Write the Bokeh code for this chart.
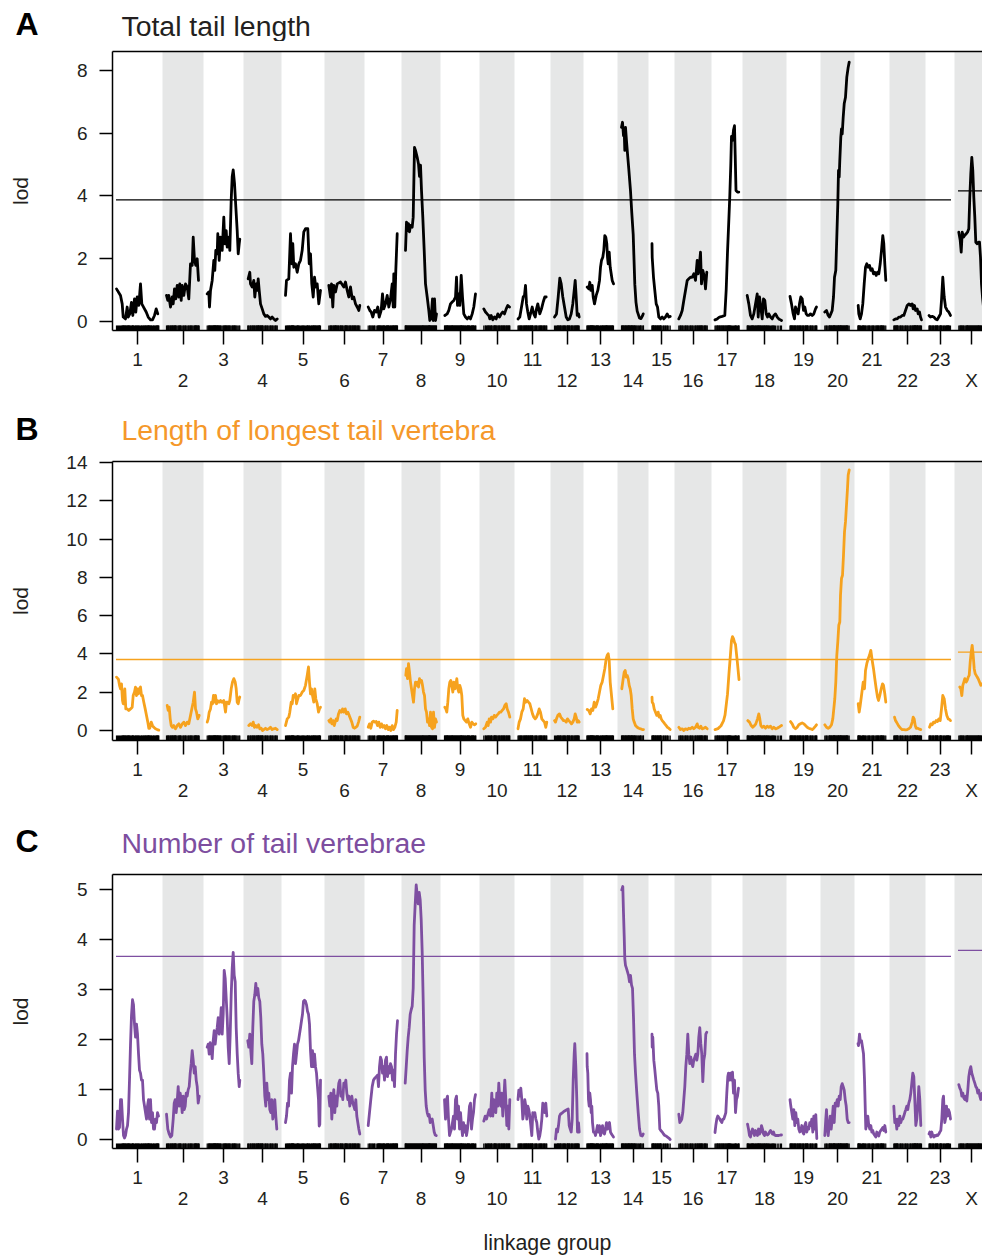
import numpy as np
from bokeh.plotting import figure
from bokeh.layouts import column
from bokeh.models import Range1d, FixedTicker, LinearAxis, CustomJSTickFormatter
from bokeh.core.properties import value
from bokeh.embed import file_html
from bokeh.resources import INLINE

# ---------------- data ----------------
chrom_names = [str(i) for i in range(1, 24)] + ["X"]
chrom_lengths = [43, 34, 33, 31, 36, 33, 30, 32, 32, 28, 29, 26, 27, 24, 19, 30, 24, 37, 27, 27, 28, 29, 22, 27]
chrom_gap = 7.0

# Panel A: total tail length (position in cM within chromosome, LOD)
tail_length_pos = [
    [0.5,4.5,6.2,7.2,9.5,11.2,12.2,13.8,15.5,16.8,18.5,19.8,21.2,22.8,24.5,25.8,27.8,30.2,32.2,34.5,36.5,38.5,40.2,41.8],
    [0.5,1.8,2.8,4.5,6.2,7.2,8.5,9.8,11.2,12.8,13.8,15.2,16.2,17.8,19.5,21.2,22.8,24.5,26.2,27.2,28.5,29.8,31.2,32.5],
    [0.2,1.8,2.5,3.5,5.2,6.8,7.8,8.8,10.2,10.8,12.2,13.5,15.2,16.8,17.8,19.2,20.2,21.8,22.8,24.2,25.2,26.2,27.5,28.8,30.2,31.2,32.2,32.8],
    [1.2,2.8,3.5,5.2,6.8,7.8,9.2,10.2,11.2,12.2,13.5,15.2,16.8,18.5,20.2,21.8,23.5,25.2,26.8,28.5,30.2],
    [0.5,1.5,3.8,5.5,6.8,7.8,8.8,10.5,12.2,13.8,15.5,17.2,18.8,20.5,22.8,24.2,25.5,26.8,28.2,29.5,30.8,32.2,33.8,35.5],
    [0.8,2.5,3.5,4.8,5.8,7.5,9.2,12.5,15.8,17.5,19.2,20.8,22.5,24.2,25.8,27.5,29.2,30.8,31.8],
    [0.2,1.8,3.2,4.8,6.5,8.2,9.8,11.2,13.2,14.5,15.8,17.5,19.2,20.8,22.5,24.2,25.2,25.8,26.8,27.8,29.2],
    [0.5,1.5,2.5,3.5,4.5,5.5,7.2,8.2,9.5,10.5,12.2,13.5,14.5,15.5,16.5,17.8,19.2,20.5,22.2,23.8,24.8,26.2,27.5,28.2,29.5,30.5,31.5],
    [0.8,3.2,4.8,6.5,8.2,9.8,11.5,12.5,13.5,14.8,15.8,17.2,18.5,19.8,21.5,23.2,24.8,26.5,28.2,29.8,31.5],
    [0.8,2.5,4.2,5.8,6.8,8.2,9.8,11.5,13.2,14.8,16.5,18.2,19.8,21.5,23.2,24.8,26.5],
    [0,1.8,3.5,5.2,6.5,7.5,8.5,9.8,11.2,12.5,14.2,15.8,17.2,18.5,19.8,21.8,23.5,25.2,26.8,28.2],
    [0.5,2.5,4.2,5.8,7.2,8.8,10.5,12.2,13.8,15.5,17.2,18.8,20.2,21.2,22.2,23.2,24.5,25.2],
    [0.2,1.8,2.8,3.8,5.2,6.2,7.5,9.2,10.8,12.5,13.5,14.5,15.8,16.8,17.8,18.8,19.8,20.5,21.2,22.2,23.2,24.2,25.2,26.5],
    [0.5,1.5,2.5,3.2,3.8,4.5,5.5,6.5,7.8,9.5,10.8,12.2,13.8,15.0,16.2,18.5,20.0,21.2,22.2],
    [0,0.2,1.5,2.8,4.2,5.5,6.8,8.5,10.2,11.8,13.5,15.2,16.8,18.2],
    [0.8,2.5,4.2,5.8,7.5,9.2,10.8,12.5,14.2,15.8,17.5,19.2,20.2,21.5,22.5,23.5,24.8,26.5,27.5,28.8],
    [0,2.2,4.5,7.2,9.8,11.2,12.5,13.8,14.8,15.8,16.5,17.5,18.5,19.5,20.2,21.0,22.5,23.8],
    [1.2,2.8,4.5,6.2,7.8,9.5,11.2,12.2,13.5,14.8,16.2,17.5,18.8,20.2,21.5,22.8,24.5,26.2,27.8,29.5,31.2,32.8,34.5,35.5],
    [0,1.5,3.2,4.5,5.5,6.8,8.2,9.5,10.8,12.2,13.5,14.8,16.2,17.5,18.8,20.5,22.2,23.8,25.5,26.5],
    [0.8,2.5,4.2,5.5,6.8,8.2,9.5,10.5,11.8,12.8,13.8,14.5,15.2,15.8,16.8,17.5,18.2,19.2,20.2,21.5,22.8,24.2,25.2],
    [0.2,0.8,2.2,3.5,4.8,6.2,7.5,8.8,10.2,11.5,12.8,14.2,15.5,16.8,18.2,19.5,20.8,22.2,23.5,24.8,25.8,26.8,27.8],
    [0.8,2.5,4.2,5.8,7.5,9.2,10.8,12.5,14.2,15.8,17.5,19.2,20.2,21.5,22.5,24.2,25.2,26.5,27.5,28.5],
    [0,1.5,3.2,4.8,6.5,8.2,9.8,11.5,12.5,13.8,15.2,16.5,18.2,19.8,21.5],
    [0.8,2.2,3.2,4.2,5.5,6.8,8.2,9.5,10.8,11.8,12.8,13.8,14.8,15.8,16.8,17.8,19.2,20.5,21.5,22.5,23.5,24.5,26.0],
]
tail_length_lod = [
    [1.03,0.82,0.55,0.13,0.07,0.45,0.13,0.23,0.60,0.18,0.71,0.29,0.77,0.50,1.19,0.55,0.43,0.29,0.13,0.04,0.04,0.18,0.39,0.23],
    [0.82,0.66,0.82,0.45,0.77,0.55,1.03,0.71,1.14,0.77,1.19,0.66,1.14,0.82,1.19,1.09,0.71,1.83,1.78,2.68,1.94,1.78,1.99,1.30],
    [0.87,0.93,0.45,0.98,1.30,1.94,1.62,2.26,2.15,2.79,1.94,2.68,2.26,3.32,2.47,2.89,2.36,2.68,2.26,3.87,4.62,4.83,4.40,3.66,2.89,2.15,2.47,2.62],
    [1.35,1.56,1.19,1.09,1.30,0.77,1.19,0.98,1.35,0.98,0.55,0.39,0.23,0.15,0.18,0.13,0.07,0.13,0.07,0.02,0.07],
    [0.82,1.30,1.35,2.79,1.83,2.47,1.72,1.83,1.56,1.83,1.94,2.26,2.85,2.95,2.95,1.83,2.15,1.19,0.77,1.40,1.09,1.19,0.55,0.98],
    [1.14,0.77,1.19,0.45,1.14,0.93,1.19,1.25,1.09,1.25,0.98,0.77,1.09,0.71,0.77,0.55,0.45,0.34,0.50],
    [0.45,0.34,0.29,0.13,0.34,0.29,0.45,0.13,0.34,0.87,0.39,0.55,0.82,0.45,0.71,1.19,0.45,1.51,0.45,1.62,2.79],
    [2.26,3.16,2.89,3.11,2.85,3.06,3.00,3.32,5.55,5.45,5.23,5.02,4.62,4.98,4.17,3.32,2.26,1.19,0.77,0.34,0.02,0.13,0.71,0.02,0.71,0.02,0.23],
    [0.18,0.23,0.34,0.55,0.61,0.66,0.77,1.40,0.50,0.87,0.50,1.46,0.77,0.23,0.13,0.07,0.13,0.07,0.23,0.45,0.87],
    [0.39,0.29,0.23,0.18,0.07,0.18,0.04,0.13,0.07,0.23,0.13,0.23,0.29,0.23,0.39,0.50,0.45],
    [0.07,0.13,0.45,0.77,0.82,1.14,0.55,0.29,0.07,0.23,0.45,0.23,0.13,0.39,0.55,0.23,0.39,0.61,0.77,0.77],
    [0.13,0.23,0.77,1.37,1.19,0.77,0.45,0.13,0.04,0.07,0.23,0.55,0.98,1.30,0.77,0.18,0.23,0.13],
    [1.09,1.03,1.24,0.98,1.14,0.77,0.55,0.82,0.98,1.30,1.72,1.94,2.04,2.26,2.73,2.68,2.47,2.04,1.83,2.20,1.72,1.51,1.30,1.19],
    [6.19,6.35,5.92,6.08,5.45,6.19,5.75,5.35,4.85,4.16,3.45,2.77,1.18,0.60,0.32,0.10,0.08,0.15,0.23],
    [2.47,2.04,1.40,0.98,0.55,0.45,0.13,0.07,0.13,0.07,0.13,0.23,0.13,0.15],
    [0.07,0.18,0.34,0.66,0.98,1.30,1.35,1.40,1.40,1.51,1.30,1.94,1.51,1.83,2.20,1.19,1.62,1.40,1.03,1.56],
    [0.04,0.07,0.13,0.15,0.18,1.00,2.20,3.20,4.00,5.00,5.90,5.77,6.10,6.24,5.30,4.17,4.12,4.12],
    [0.82,0.55,0.18,0.07,0.23,0.55,0.87,0.13,0.77,0.45,0.07,0.71,0.66,0.23,0.13,0.23,0.13,0.07,0.18,0.23,0.13,0.07,0.04,0.02],
    [0.79,0.55,0.23,0.07,0.45,0.34,0.23,0.55,0.77,0.71,0.34,0.45,0.23,0.18,0.18,0.23,0.18,0.23,0.39,0.45],
    [0.29,0.34,0.18,0.13,0.23,0.34,0.77,1.40,1.62,2.68,3.74,4.81,4.60,5.13,5.87,6.14,5.98,6.51,6.94,7.15,7.79,8.11,8.27],
    [0.50,0.23,0.07,0.23,0.55,1.19,1.72,1.83,1.72,1.78,1.62,1.67,1.51,1.56,1.46,1.56,1.51,1.83,2.26,2.73,2.47,1.83,1.30],
    [0.04,0.07,0.07,0.13,0.13,0.18,0.18,0.34,0.50,0.55,0.50,0.55,0.39,0.50,0.34,0.39,0.23,0.29,0.13,0.04],
    [0.18,0.13,0.15,0.13,0.07,0.04,0.13,0.23,0.66,1.40,0.77,0.45,0.34,0.29,0.18],
    [2.84,2.58,2.20,2.84,2.68,2.74,2.79,2.84,2.95,3.96,4.70,5.23,4.81,3.96,3.32,2.52,2.47,2.52,2.52,2.04,1.19,0.77,0.30],
]

# Panel B: length of longest tail vertebra
vertebra_length_pos = [
    [0.5,2.5,3.5,4.5,5.5,6.5,7.2,7.8,8.8,9.8,11.2,12.8,14.5,16.2,17.2,18.5,19.5,20.5,21.5,22.5,23.5,24.5,25.5,26.5,27.8,29.2,30.5,31.8,32.8,33.8,35.2,36.5,37.8,39.5,41.2,42.8],
    [1.2,2.2,3.2,4.2,5.2,6.5,7.8,9.5,11.2,12.8,14.5,16.2,17.8,19.5,21.2,22.8,24.5,25.8,27.2,28.5,29.5,30.5,31.8,33.2],
    [0.2,1.2,2.2,3.5,4.5,5.5,6.5,7.5,8.5,9.5,10.5,11.5,12.5,13.5,15.2,16.8,18.5,19.5,20.8,21.8,22.8,24.2,25.5,26.8,28.2,29.2,30.2,31.2,32.2,32.8],
    [1.8,3.5,5.2,6.2,7.5,8.8,10.2,11.5,12.8,14.2,15.5,16.8,18.5,20.2,21.8,23.5,25.2,26.8,28.5,30.2],
    [0.5,2.2,3.8,4.8,6.2,7.2,8.2,9.5,10.5,11.5,12.8,13.8,15.5,17.2,18.8,20.5,22.2,23.5,24.5,25.5,26.5,27.5,28.8,29.8,30.8,32.2,33.5,34.5,35.5],
    [0.8,1.8,2.8,3.8,5.2,6.2,7.2,8.2,9.2,10.5,11.8,13.2,14.5,15.8,17.2,18.5,19.8,21.2,22.5,23.8,25.2,26.5,27.8,29.2,30.5,31.8],
    [0.2,1.5,2.8,4.2,5.5,6.8,8.2,9.5,10.8,12.2,13.5,14.8,16.2,17.5,18.8,20.2,21.5,22.8,24.2,25.5,26.8,28.2,29.2],
    [0.8,1.5,2.5,3.5,4.5,5.5,6.5,7.5,8.5,9.5,10.5,11.5,12.5,13.5,14.5,15.5,16.5,17.5,18.5,19.5,20.5,21.5,22.5,23.5,24.5,25.5,26.5,27.5,28.5,29.5,30.5,31.5],
    [0.8,1.8,2.8,3.8,4.8,5.8,6.8,7.8,8.8,9.8,10.8,11.8,12.8,13.8,14.8,15.8,16.8,17.8,18.8,19.8,21.2,22.5,23.8,25.2,26.5,27.8,29.2,30.5,31.8],
    [0.8,2.5,4.2,5.2,6.2,7.5,8.5,9.8,11.2,12.5,13.8,15.2,16.5,17.8,19.2,20.5,21.8,23.2,24.2,25.5,26.8],
    [0,1.2,2.5,3.8,5.2,6.5,7.8,9.2,10.5,11.8,13.2,14.5,15.8,17.2,18.5,19.8,21.2,22.5,23.8,25.2,26.5,27.8,28.8],
    [0.5,1.5,2.5,3.8,5.5,6.8,8.2,9.5,10.8,12.2,13.5,14.8,16.2,17.5,18.8,20.2,21.2,22.2,23.2,24.2,25.2],
    [0.2,1.8,3.2,4.5,5.8,7.2,8.5,9.8,11.2,12.5,13.8,15.2,16.5,17.8,19.2,20.2,21.2,22.2,23.2,24.5,25.8],
    [0.8,2.2,3.2,4.2,5.2,6.2,7.2,8.2,9.2,10.2,11.2,12.2,13.2,14.5,16.2,17.8,19.5,21.2,22.5],
    [0,0.2,1.2,2.2,3.5,4.8,6.2,7.2,8.2,9.2,10.2,11.5,12.8,14.2,15.5,16.8,18.2],
    [0.8,2.5,4.2,5.8,7.5,9.2,10.8,12.5,14.2,15.8,17.5,19.2,20.2,21.5,22.8,24.2,25.8,27.5,29.2],
    [0,3,6,8.5,10,12.5,14,15.5,16.5,17.5,18.5,19.5,20.5,22.5,24],
    [1.8,3.5,5.2,6.8,8.5,9.8,11.5,12.8,13.8,14.8,16.2,17.8,19.5,21.2,22.8,24.5,26.2,27.8,29.5,31.2,32.8,34.5,35.5],
    [0.5,2.2,3.8,5.5,7.2,8.8,10.5,12.2,13.8,15.5,17.2,18.8,20.5,22.2,23.8,25.5,26.5],
    [0.8,2.5,4.2,5.8,7.5,8.8,9.8,10.8,11.8,12.8,13.8,14.8,15.8,16.5,17.5,18.5,19.5,20.5,21.5,22.5,23.5,24.2,25.2],
    [0.2,1.2,2.2,3.5,5.2,6.5,7.5,8.8,10.2,11.5,12.8,14.2,15.5,16.8,18.2,19.5,20.5,21.8,23.2,24.5,25.5,26.8,27.8],
    [1.5,2.5,3.5,4.5,5.8,7.5,9.2,10.8,12.5,14.2,15.8,17.5,19.2,20.2,21.2,22.2,23.2,24.5,25.8,27.8],
    [0.5,1.8,3.2,4.5,5.8,7.2,8.5,9.8,11.2,12.5,13.8,15.2,16.5,17.8,19.2,20.5,21.5],
    [1.8,2.8,3.8,4.8,5.8,6.8,8.2,9.2,10.2,11.2,12.2,13.2,14.2,15.2,16.2,17.2,18.2,19.2,20.2,21.5,22.8,24.2,26.0],
]
vertebra_length_lod = [
    [2.79,2.67,2.36,2.18,2.44,1.57,1.40,1.40,2.18,1.13,1.13,1.05,1.13,1.22,1.83,2.01,2.27,1.83,2.18,1.92,2.18,2.27,1.83,1.83,1.48,1.13,0.79,0.44,0.12,0.12,0.44,0.26,0.17,0.09,0.05,0.02],
    [1.31,1.05,1.22,0.61,0.26,0.17,0.26,0.09,0.26,0.35,0.17,0.35,0.44,0.26,0.44,0.35,0.79,1.13,1.48,2.01,1.13,0.96,0.61,0.79],
    [0.44,0.61,0.96,1.13,1.48,1.40,1.83,1.48,1.83,1.40,1.57,1.48,1.48,1.57,1.48,1.57,0.96,1.48,1.48,1.40,1.57,2.18,2.53,2.71,2.53,2.18,1.48,1.40,1.66,1.75],
    [0.26,0.35,0.26,0.44,0.17,0.26,0.17,0.30,0.09,0.12,0.0,0.05,0.12,0.05,0.09,0.17,0.05,0.09,0.12,0.05],
    [0.26,0.61,0.70,0.96,1.48,1.40,1.83,1.75,1.92,1.40,1.66,1.83,1.83,2.01,2.09,2.36,2.88,3.32,2.53,1.92,2.18,1.83,1.48,2.18,1.66,1.40,0.96,1.13,1.22],
    [0.52,0.44,0.61,0.35,0.52,0.26,0.44,0.61,0.52,0.87,1.05,0.96,1.13,0.96,1.13,0.87,0.96,0.79,0.61,0.44,0.17,0.12,0.17,0.23,0.44,0.70],
    [0.17,0.35,0.12,0.44,0.49,0.44,0.47,0.26,0.44,0.17,0.35,0.17,0.26,0.09,0.26,0.05,0.17,0.0,0.26,0.05,0.17,0.44,1.05],
    [2.88,3.23,2.71,3.49,3.05,2.53,2.18,1.83,1.48,2.18,2.53,2.36,2.53,2.27,2.71,2.53,2.62,2.36,2.01,1.83,1.13,0.96,0.44,0.61,0.26,0.96,0.17,0.09,0.96,0.17,0.61,0.44],
    [1.22,1.13,0.96,1.48,2.18,2.53,2.62,2.36,2.01,2.53,2.18,2.36,2.71,2.18,2.01,2.36,2.18,1.83,0.79,0.61,0.52,0.44,0.61,0.35,0.17,0.44,0.35,0.30,0.35],
    [0.09,0.17,0.44,0.26,0.61,0.44,0.70,0.61,0.79,0.70,0.79,0.87,0.96,0.96,1.05,1.13,1.31,1.40,1.13,0.96,0.70],
    [0.09,0.44,0.61,0.96,1.13,1.66,1.48,1.57,1.48,1.40,1.13,0.87,0.70,0.61,0.70,0.87,1.13,0.96,0.61,0.52,0.44,0.17,0.44],
    [0.52,0.44,0.61,0.79,0.87,0.70,0.61,0.52,0.52,0.44,0.61,0.52,0.44,0.35,0.44,0.61,0.87,0.70,0.44,0.52,0.44],
    [1.10,1.05,0.87,1.13,1.05,1.48,1.22,1.40,1.66,2.01,2.36,2.53,2.88,3.23,3.75,3.93,4.01,3.66,2.53,1.83,1.13],
    [2.18,2.71,3.05,3.14,2.79,2.88,2.71,2.36,2.18,1.83,1.13,0.61,0.44,0.26,0.17,0.12,0.09,0.05,0.05],
    [1.75,1.48,1.40,1.13,0.96,0.79,0.96,0.70,0.79,0.61,0.52,0.44,0.35,0.26,0.17,0.12,0.05],
    [0.17,0.05,0.09,0.0,0.09,0.05,0.12,0.09,0.17,0.09,0.17,0.35,0.17,0.12,0.23,0.09,0.12,0.17,0.09],
    [0.05,0.10,0.25,0.50,0.80,1.90,3.00,4.00,4.70,4.90,4.80,4.60,4.50,3.50,2.66],
    [0.52,0.44,0.26,0.17,0.26,0.35,0.61,0.87,0.61,0.26,0.17,0.23,0.12,0.23,0.17,0.23,0.09,0.17,0.09,0.12,0.17,0.23,0.26],
    [0.47,0.35,0.17,0.09,0.17,0.30,0.35,0.40,0.35,0.26,0.17,0.12,0.09,0.05,0.12,0.23,0.30],
    [0.30,0.17,0.12,0.17,0.30,0.61,1.13,1.66,2.53,3.93,4.63,5.50,5.67,7.07,7.94,8.11,9.16,10.38,10.91,11.78,12.65,13.35,13.61],
    [1.40,0.96,1.31,1.83,2.53,2.18,3.14,3.49,3.75,3.93,4.19,3.66,3.23,2.71,2.18,1.75,1.57,1.83,2.18,2.44,2.36,1.92,1.48],
    [0.70,0.52,0.44,0.35,0.23,0.12,0.05,0.05,0.03,0.05,0.09,0.17,0.44,0.70,0.61,0.26,0.12,0.12,0.09,0.05],
    [0.17,0.35,0.30,0.44,0.40,0.52,0.47,0.61,0.52,1.13,1.83,1.66,1.13,0.79,0.61,0.58,0.52],
    [2.27,2.18,1.83,2.36,2.53,2.71,2.53,2.62,2.79,2.88,3.58,4.10,4.45,3.93,3.23,2.97,2.88,2.79,2.71,2.53,2.36,2.45,2.30],
]

# Panel C: number of tail vertebrae
vertebra_number_pos = [
    [0.5,1.5,2.5,3.5,4.5,5.5,6.5,7.5,8.5,9.5,10.5,11.5,12.5,13.5,14.5,15.5,16.5,17.5,18.5,19.5,20.5,21.5,22.5,23.5,24.5,25.5,26.5,27.5,28.5,29.5,30.5,31.5,32.5,33.5,34.5,35.5,36.5,37.5,38.5,39.5,40.5,41.5,42.5],
    [0.5,1.8,3.2,4.5,5.8,7.2,8.2,9.2,10.2,11.2,12.2,13.2,14.2,15.2,16.2,17.2,18.2,19.2,20.2,21.2,22.2,23.2,24.2,25.2,26.2,27.2,28.2,29.2,30.2,31.2,32.2,33.2],
    [0.2,1.2,2.2,3.2,4.2,5.2,6.2,7.2,8.2,9.2,10.2,11.2,12.2,13.2,14.2,15.2,16.2,17.2,18.2,19.2,20.2,21.2,22.2,23.2,24.2,25.2,26.2,27.2,28.2,29.2,30.2,31.2,32.2,32.8],
    [0.8,1.8,2.8,3.8,4.8,5.8,6.8,7.8,8.8,9.8,10.8,11.8,12.8,13.8,14.8,15.8,16.8,17.8,18.8,19.8,20.8,21.8,22.8,23.8,24.8,25.8,26.8,27.8,28.8,29.8],
    [0.5,1.5,2.5,3.5,4.5,5.5,6.5,7.5,8.5,9.5,10.5,11.5,12.5,13.5,14.5,15.5,16.5,17.5,18.5,19.5,20.5,21.5,22.5,23.5,24.5,25.5,26.5,27.5,28.5,29.5,30.5,31.5,32.5,33.5,34.2,34.8,35.5],
    [0.8,1.8,2.8,3.8,4.8,5.8,6.8,7.8,8.8,9.8,10.8,11.8,12.8,13.8,14.8,15.8,16.8,17.8,18.8,19.8,20.8,21.8,22.8,23.8,24.8,25.8,26.8,27.8,28.8,29.8,30.8,31.8],
    [0.2,1.5,2.8,4.2,5.5,6.8,8.2,9.5,10.5,11.5,12.5,13.5,14.5,15.5,16.5,17.5,18.5,19.5,20.5,21.5,22.5,23.5,24.5,25.5,26.5,27.5,28.5,29.5],
    [0.2,1.2,2.2,3.2,4.2,5.2,6.2,7.2,8.2,9.2,10.2,11.2,12.2,13.2,14.2,15.2,16.2,17.2,18.2,19.2,20.2,21.2,22.2,23.2,24.2,25.2,26.2,27.2,28.2,29.2,30.2,31.2],
    [0.5,1.5,2.5,3.5,4.5,5.5,6.5,7.5,8.5,9.5,10.5,11.5,12.5,13.5,14.5,15.5,16.5,17.5,18.5,19.5,20.5,21.5,22.5,23.5,24.5,25.5,26.5,27.5,28.5,29.5,30.5,31.5],
    [0.8,2.2,3.5,4.8,6.2,7.5,8.8,9.8,10.8,11.8,12.8,13.8,14.8,15.8,16.8,17.8,18.8,19.8,20.8,21.8,22.8,23.8,24.8,25.8,26.8],
    [0,0.8,1.8,2.8,3.8,4.8,5.8,6.8,7.8,8.8,9.8,10.8,11.8,12.8,13.8,14.8,15.8,16.8,17.8,18.8,19.8,20.8,21.8,22.8,23.8,24.8,25.8,26.8,27.8,28.8],
    [1.5,2.5,3.5,4.5,5.5,6.5,8.2,9.8,11.5,13.2,14.2,15.2,16.2,17.2,18.2,19.2,20.2,20.8,21.8,22.8,23.5,24.5,25.2],
    [0,0.2,0.8,1.5,2.2,2.8,3.5,4.2,4.8,5.5,6.5,7.5,8.5,9.5,10.5,11.5,12.5,13.5,14.5,15.5,16.5,17.5,18.5,19.5,20.5,21.5,22.5,23.5,24.5,25.5,26.5],
    [0.8,1.8,2.5,3.2,3.8,4.5,5.5,6.5,7.5,8.5,9.5,10.5,11.5,12.5,13.5,14.5,15.8,17.2,18.5,19.8,21.2,22.2],
    [0,0.2,0.8,1.8,2.8,3.8,4.8,5.8,6.8,7.8,8.8,10.2,11.5,12.8,14.2,15.5,16.8,18.2],
    [0.8,1.8,2.8,3.8,4.8,5.8,6.8,7.8,8.8,9.8,10.8,11.8,12.8,13.8,14.8,15.8,16.8,17.8,18.8,19.8,20.8,21.8,22.8,23.8,24.8,25.8,26.8,27.8,28.8],
    [0,0.8,1.8,2.8,3.8,4.8,5.8,6.8,7.8,8.8,9.8,10.8,11.8,12.8,13.5,14.5,15.5,16.5,17.5,18.5,19.5,20.5,21.5,22.5,23.5],
    [1.5,2.5,3.5,4.5,5.5,6.5,7.5,8.5,9.5,10.5,11.5,12.5,13.5,14.5,15.5,16.5,17.5,18.5,19.5,20.5,21.5,22.5,23.5,24.5,25.5,26.5,27.5,28.5,29.5,31.2,32.8,34.5,35.5],
    [0,0.8,1.8,2.8,3.8,4.8,5.8,6.8,7.8,8.8,9.8,10.8,11.8,12.8,13.8,14.8,15.8,16.8,17.8,18.8,19.8,20.8,21.8,22.8,23.8,24.8,25.8,26.8],
    [0.8,1.8,2.5,3.2,4.2,5.2,6.2,7.2,8.2,9.2,10.2,11.2,12.2,13.2,14.2,15.2,16.2,17.2,18.2,19.2,20.2,21.2,22.2,23.2,24.2,25.2],
    [0,0.5,1.5,2.5,3.5,4.5,5.5,6.5,7.8,8.8,9.8,10.8,11.8,12.8,13.8,14.8,15.8,16.8,17.8,18.8,19.8,20.8,21.8,22.8,23.8,24.8,25.8,26.8,27.8],
    [0.8,1.8,2.8,3.8,4.8,5.8,6.8,7.8,8.8,9.8,10.8,11.8,12.8,13.8,14.8,15.8,16.8,17.8,18.8,19.8,20.8,21.8,22.8,23.8,24.8,25.8,26.8,27.8],
    [0,0.8,1.8,2.8,3.8,4.8,5.8,6.8,7.8,8.8,9.8,10.8,11.8,12.8,13.8,14.5,15.2,15.8,16.5,17.5,18.5,19.5,20.5,21.5],
    [0.8,1.8,2.8,3.8,4.8,5.8,6.8,7.8,8.8,9.8,10.8,11.8,12.8,13.8,14.8,15.8,16.8,17.8,18.8,19.8,20.8,21.8,22.8,24.2,26.0],
]
vertebra_number_lod = [
    [0.21,0.57,0.21,0.24,0.80,0.80,0.41,0.08,0.03,0.08,0.21,0.28,0.54,1.19,1.90,2.49,2.80,2.70,2.31,2.05,2.31,2.11,1.72,1.39,1.33,1.19,1.19,0.80,0.67,0.54,0.41,0.67,0.80,0.41,0.80,0.34,0.54,0.21,0.21,0.41,0.34,0.54,0.47],
    [0.51,0.21,0.11,0.05,0.08,0.41,0.73,0.80,0.54,0.77,1.06,0.67,0.93,0.80,0.54,0.87,0.60,0.67,0.93,0.87,1.00,1.06,1.33,1.52,1.78,1.59,1.33,1.46,1.19,1.06,0.73,0.87],
    [1.85,1.91,1.71,1.94,1.85,1.62,1.98,2.18,1.91,2.11,2.24,2.44,2.11,2.31,2.64,2.11,2.51,3.39,3.23,2.83,2.44,1.85,1.52,2.11,2.90,3.43,3.75,3.29,3.16,2.24,1.72,1.33,1.06,1.19],
    [1.98,1.85,2.11,1.78,1.52,2.24,2.77,2.90,3.13,2.90,3.03,2.84,2.77,2.44,1.91,1.71,1.33,0.87,0.67,1.13,0.80,0.93,0.60,0.54,0.80,0.41,0.54,0.80,0.47,0.21],
    [0.34,0.47,0.73,0.67,1.19,1.33,0.93,1.46,1.71,1.91,1.52,1.71,1.91,1.98,2.11,2.24,2.38,2.51,2.77,2.79,2.77,2.70,2.57,2.51,2.31,1.78,1.46,1.78,1.46,1.71,1.46,1.33,1.06,0.80,0.27,0.30,1.19],
    [0.87,0.67,0.93,0.41,0.80,1.00,0.54,0.87,0.67,0.93,1.13,1.19,0.87,0.93,0.80,1.13,1.06,1.19,0.93,0.80,0.87,0.67,0.80,0.87,0.73,0.67,0.60,0.80,0.47,0.34,0.21,0.11],
    [0.28,0.54,0.80,1.06,1.19,1.23,1.26,1.29,1.06,1.46,1.65,1.59,1.33,1.46,1.19,1.59,1.65,1.26,1.46,1.33,1.52,1.46,1.19,1.39,1.06,1.71,2.11,2.38],
    [1.13,1.45,1.78,2.05,2.24,2.51,2.60,2.67,3.03,4.30,4.72,5.10,4.90,4.72,4.95,4.80,4.40,3.75,2.77,1.65,0.99,0.67,0.54,0.47,0.50,0.34,0.37,0.41,0.28,0.15,0.09,0.08],
    [0.80,0.41,0.80,0.87,0.41,0.08,0.15,0.21,0.34,0.47,0.21,0.80,0.87,0.41,0.67,0.21,0.54,0.28,0.08,0.34,0.15,0.28,0.08,0.21,0.41,0.67,0.73,0.21,0.41,0.54,0.80,0.90],
    [0.37,0.47,0.41,0.50,0.60,0.47,0.93,0.47,0.80,0.67,0.54,0.93,0.67,1.13,0.80,0.67,0.93,0.47,0.80,1.19,0.80,0.28,0.67,0.21,0.80],
    [0.80,0.99,0.87,1.03,0.80,0.41,0.54,0.80,0.67,0.41,0.67,0.60,0.47,0.28,0.08,0.54,0.47,0.54,0.41,0.34,0.15,0.01,0.08,0.21,0.41,0.73,0.67,0.54,0.73,0.47],
    [0.01,0.21,0.15,0.28,0.47,0.51,0.53,0.56,0.58,0.60,0.61,0.28,0.21,0.15,0.41,1.19,1.71,1.92,1.46,0.80,0.15,0.34,0.15],
    [1.72,1.46,1.33,0.80,0.67,0.93,0.80,0.54,0.67,0.34,0.15,0.15,0.08,0.18,0.28,0.15,0.28,0.08,0.15,0.28,0.15,0.11,0.21,0.34,0.21,0.28,0.34,0.15,0.11,0.08,0.05],
    [5.00,5.07,4.54,4.08,3.62,3.49,3.43,3.36,3.29,3.16,3.29,3.10,3.03,2.44,1.71,1.33,0.93,0.54,0.21,0.08,0.07,0.11],
    [2.11,1.85,2.05,1.59,1.40,1.19,0.99,0.93,0.67,0.21,0.18,0.15,0.11,0.08,0.07,0.05,0.03,0.0],
    [0.51,0.34,0.37,0.41,0.54,0.80,1.06,1.46,1.71,2.11,1.71,1.52,1.65,1.52,1.46,1.59,1.65,1.71,1.59,1.71,2.05,2.24,1.92,1.71,1.16,1.59,1.71,2.11,2.15],
    [0.14,0.28,0.41,0.47,0.44,0.41,0.37,0.34,0.41,0.41,0.47,0.54,0.93,1.26,1.33,1.19,1.33,1.19,1.35,0.93,1.19,0.54,0.80,0.87,1.03],
    [0.31,0.21,0.08,0.05,0.15,0.21,0.15,0.08,0.18,0.15,0.08,0.21,0.11,0.15,0.28,0.21,0.11,0.08,0.15,0.11,0.09,0.11,0.15,0.18,0.15,0.11,0.15,0.09,0.08,0.08,0.08,0.09,0.09],
    [0.80,0.67,0.54,0.41,0.60,0.28,0.54,0.34,0.41,0.21,0.15,0.18,0.28,0.15,0.11,0.28,0.34,0.15,0.24,0.21,0.34,0.28,0.41,0.15,0.47,0.21,0.50,0.02],
    [0.08,0.41,0.60,0.28,0.08,0.28,0.47,0.21,0.41,0.67,0.34,0.73,0.67,0.80,0.67,0.87,0.80,1.06,1.12,1.06,0.99,0.80,0.67,0.41,0.34,0.34],
    [1.92,1.88,2.11,1.95,1.98,1.85,1.72,1.20,0.21,0.34,0.47,0.28,0.21,0.28,0.15,0.18,0.11,0.08,0.05,0.15,0.11,0.07,0.15,0.18,0.21,0.24,0.18,0.28,0.15],
    [0.67,0.34,0.41,0.21,0.41,0.28,0.47,0.34,0.41,0.41,0.47,0.54,0.60,0.67,0.60,0.73,0.80,0.93,1.13,1.33,1.26,0.80,0.28,0.41,0.67,1.06,0.80,0.28],
    [0.11,0.15,0.05,0.15,0.08,0.05,0.08,0.07,0.09,0.08,0.11,0.15,0.18,0.41,0.80,0.87,0.54,0.34,0.41,0.67,0.47,0.60,0.54,0.41],
    [1.10,1.03,0.99,0.87,0.93,0.83,0.80,0.87,0.77,0.99,1.26,1.39,1.46,1.33,1.26,1.19,1.13,1.06,1.03,0.93,0.99,0.87,0.80,0.93,0.80],
]

# significance thresholds (autosomes, X)
threshold_autosome = [3.87, 3.71, 3.67]
threshold_x = [4.16, 4.09, 3.79]

panel_letters = ["A", "B", "C"]
panel_titles = ["Total tail length", "Length of longest tail vertebra", "Number of tail vertebrae"]
panel_colors = ["#000000", "#F6A21E", "#7E4FA1"]
title_colors = ["#231F20", "#F5982A", "#7D4E9F"]
y_ticks = [[0, 2, 4, 6, 8], [0, 2, 4, 6, 8, 10, 12, 14], [0, 1, 2, 3, 4, 5]]
y_limits = [(-0.30, 8.61), (-0.52, 14.05), (-0.18, 5.31)]

# ---------------- layout helpers ----------------
FONT = "Liberation Sans"
TXT = "#231F20"
lengths = np.array(chrom_lengths, dtype=float)
offsets = np.concatenate([[0.0], np.cumsum(lengths[:-1] + chrom_gap)])
mids = offsets + lengths / 2.0
x_lo = -chrom_gap / 2.0
x_hi = offsets[-1] + 24.5          # picture is cut inside the X chromosome

odd_names = [n if i % 2 == 0 else "" for i, n in enumerate(chrom_names)]
even_mids = [float(m) for i, m in enumerate(mids) if i % 2 == 1]
even_names = [n for i, n in enumerate(chrom_names) if i % 2 == 1]

FMT_CODE = """
let best = 0;
for (let i = 0; i < mids.length; i++) {
  if (Math.abs(mids[i] - tick) < Math.abs(mids[best] - tick)) best = i;
}
return names[best];
"""

pos_all = [tail_length_pos, vertebra_length_pos, vertebra_number_pos]
lod_all = [tail_length_lod, vertebra_length_lod, vertebra_number_lod]

# union of scan positions -> marker rug
rug_x = sorted(set(round(float(offsets[c] + p), 2)
                   for P in pos_all for c in range(24) for p in P[c]))

header_h = [41, 41, 44]
panel_h = [369, 369, 393]
border_bottom = [80, 80, 104]
lod_standoff = [42, 31, 42]
# vertical centre of the text lines inside each header strip (letter, title), measured from strip bottom
text_mid = [(17.1, 15.8), (22.1, 21.8), (23.1, 21.8)]


def header(k):
    h = figure(width=982, height=header_h[k], x_range=Range1d(0, 982), y_range=Range1d(0, header_h[k]),
               output_backend="svg", toolbar_location=None, x_axis_type=None, y_axis_type=None,
               title=None, min_border_left=0, min_border_right=0, min_border_top=0, min_border_bottom=0)
    try:
        h.frame_align = False
    except Exception:
        pass
    h.outline_line_color = None
    h.xgrid.visible = False
    h.ygrid.visible = False
    h.text(x=[15], y=[text_mid[k][0]], text=[panel_letters[k]], text_font=value(FONT),
           text_font_style=value("bold"), text_font_size=value("32px"), text_color=value("black"),
           text_baseline=value("middle"), text_align=value("left"))
    h.text(x=[121], y=[text_mid[k][1]], text=[panel_titles[k]], text_font=value(FONT),
           text_font_style=value("normal"), text_font_size=value("28.4px"), text_color=value(title_colors[k]),
           text_baseline=value("middle"), text_align=value("left"))
    return h


figs = []
for k in range(3):
    y0, y1 = y_limits[k]
    color = panel_colors[k]
    p = figure(width=982, height=panel_h[k],
               x_range=Range1d(x_lo, x_hi), y_range=Range1d(y0, y1),
               output_backend="svg", toolbar_location=None,
               min_border_left=112, min_border_right=0,
               min_border_top=10, min_border_bottom=border_bottom[k])
    p.outline_line_color = None
    p.xgrid.visible = False
    p.ygrid.visible = False
    p.background_fill_color = "white"
    p.border_fill_color = "white"

    # alternating chromosome shading
    shade = [i for i in range(24) if i % 2 == 1]
    p.quad(left=[offsets[i] - chrom_gap / 2 for i in shade],
           right=[offsets[i] + lengths[i] + chrom_gap / 2 for i in shade],
           bottom=y0, top=y1, fill_color="#E6E7E7", line_color=None)

    # marker rug
    rug_h = (y1 - y0) * 5.0 / 279.0
    p.segment(x0=rug_x, x1=rug_x, y0=y0, y1=y0 + rug_h, line_color="black", line_width=1.2)

    # thresholds
    p.segment(x0=[offsets[0]], x1=[offsets[22] + lengths[22]],
              y0=[threshold_autosome[k]], y1=[threshold_autosome[k]],
              line_color=color, line_width=1.3)
    p.segment(x0=[offsets[23]], x1=[offsets[23] + lengths[23]],
              y0=[threshold_x[k]], y1=[threshold_x[k]],
              line_color=color, line_width=1.3)

    # LOD curves
    for c in range(24):
        xs = offsets[c] + np.array(pos_all[k][c], dtype=float)
        ys = np.array(lod_all[k][c], dtype=float)
        n = min(len(xs), len(ys))
        p.line(xs[:n], ys[:n], line_color=color, line_width=2.8,
               line_join="round", line_cap="round")

    # y axis
    ya = p.yaxis[0]
    ya.ticker = FixedTicker(ticks=y_ticks[k])
    ya.major_tick_out = 13
    ya.major_tick_in = 0
    ya.minor_tick_line_color = None
    ya.axis_line_width = 1.5
    ya.major_tick_line_width = 1.5
    ya.major_label_text_font = FONT
    ya.major_label_text_font_size = "19px"
    ya.major_label_text_color = TXT
    ya.major_label_standoff = 12
    ya.axis_label = "lod"
    ya.axis_label_text_font = FONT
    ya.axis_label_text_font_style = "normal"
    ya.axis_label_text_font_size = "21px"
    ya.axis_label_text_color = TXT
    ya.axis_label_standoff = lod_standoff[k]

    # x axis: odd labels on first line
    xa = p.xaxis[0]
    xa.ticker = FixedTicker(ticks=[float(m) for m in mids])
    xa.formatter = CustomJSTickFormatter(args=dict(mids=[float(m) for m in mids], names=odd_names), code=FMT_CODE)
    xa.major_tick_out = 14
    xa.major_tick_in = 0
    xa.minor_tick_line_color = None
    xa.axis_line_width = 1.5
    xa.major_tick_line_width = 1.5
    xa.major_label_text_font = FONT
    xa.major_label_text_font_size = "19px"
    xa.major_label_text_color = TXT
    xa.major_label_standoff = 8

    # x axis: even labels on second line
    xb = LinearAxis(ticker=FixedTicker(ticks=even_mids),
                    formatter=CustomJSTickFormatter(args=dict(mids=even_mids, names=even_names), code=FMT_CODE),
                    axis_line_color=None, major_tick_line_color=None, minor_tick_line_color=None,
                    major_tick_out=0, major_tick_in=0, major_label_standoff=1,
                    major_label_text_font=FONT, major_label_text_font_size="19px",
                    major_label_text_color=TXT)
    if k == 2:
        xb.axis_label = "linkage group"
        xb.axis_label_text_font = FONT
        xb.axis_label_text_font_style = "normal"
        xb.axis_label_text_font_size = "21.3px"
        xb.axis_label_text_color = TXT
        xb.axis_label_standoff = 19
    p.add_layout(xb, "below")

    # top frame line
    top = LinearAxis(ticker=FixedTicker(ticks=[]), axis_line_width=1.5,
                     major_tick_line_color=None, minor_tick_line_color=None,
                     major_label_text_font_size="0px", major_label_standoff=0)
    p.add_layout(top, "above")

    figs.append(header(k))
    figs.append(p)

layout = column(*figs, spacing=0)
open("out.html", "w").write(file_html(layout, INLINE))
